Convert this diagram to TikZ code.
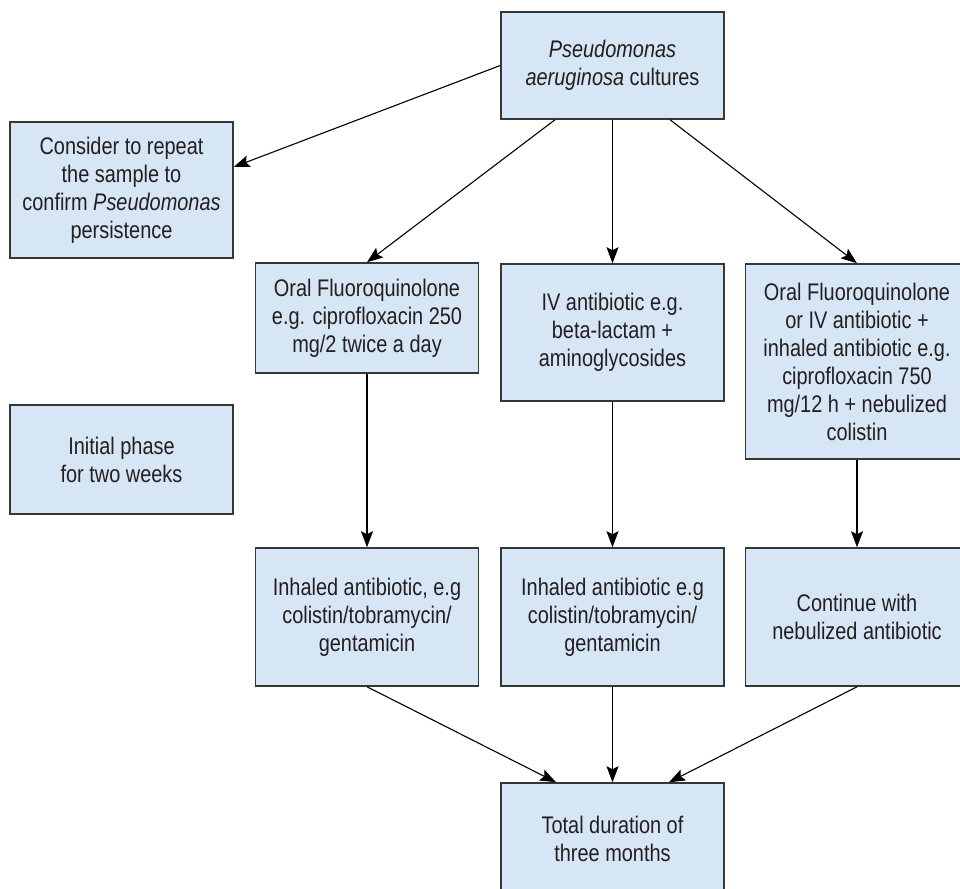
\documentclass[tikz,border=0pt]{standalone}
\usepackage{fontspec}
\setmainfont{Liberation Sans}[FakeStretch=0.83]
\usetikzlibrary{arrows.meta}
\definecolor{boxfill}{RGB}{214,230,244}
\definecolor{boxline}{RGB}{55,55,55}
\definecolor{txt}{RGB}{35,31,32}
\tikzset{
  fbox/.style={draw=boxline, line width=1.5pt, fill=boxfill, inner sep=0pt,
    align=center, text=txt, font=\fontsize{24}{28}\selectfont,
    minimum width=223pt},
  conn/.style={draw=black, line width=1.1pt,
    -{Stealth[length=16pt,width=12pt,inset=3pt]}},
}
\begin{document}
\begin{tikzpicture}[x=1pt,y=-1pt]
\useasboundingbox (0,0) rectangle (960,888);
\node[fbox, minimum height=107pt] (top) at (612.5,65.5) {\textit{Pseudomonas}\\\textit{aeruginosa} cultures};
\node[fbox, minimum height=136pt] (consider) at (121.5,190) {Consider to repeat\\the sample to\\confirm \textit{Pseudomonas}\\persistence};
\node[fbox, minimum height=109pt] (initial) at (121.5,459.5) {Initial phase\\for two weeks};
\node[fbox, minimum height=110pt] (b1) at (367,318) {Oral Fluoroquinolone\\e.g. ciprofloxacin 250\\mg/2 twice a day};
\node[fbox, minimum height=137pt] (b2) at (612.5,332.5) {IV antibiotic e.g.\\beta-lactam +\\aminoglycosides};
\node[fbox, minimum height=195pt] (b3) at (857,361.5) {Oral Fluoroquinolone\\or IV antibiotic +\\inhaled antibiotic e.g.\\ciprofloxacin 750\\mg/12 h + nebulized\\colistin};
\node[fbox, minimum height=138pt] (c1) at (367,617) {Inhaled antibiotic, e.g\\colistin/tobramycin/\\gentamicin};
\node[fbox, minimum height=138pt] (c2) at (612.5,617) {Inhaled antibiotic e.g\\colistin/tobramycin/\\gentamicin};
\node[fbox, minimum height=138pt] (c3) at (857,617) {Continue with\\nebulized antibiotic};
\node[fbox, minimum height=112pt] (bot) at (612.5,839) {Total duration of\\three months};
\draw[conn] (top.west) -- ([yshift=23pt]consider.east);
\draw[conn] ([xshift=-57.5pt]top.south) -- (b1.north);
\draw[conn] (top.south) -- (b2.north);
\draw[conn] ([xshift=57.5pt]top.south) -- (b3.north);
\draw[conn] (b1.south) -- (c1.north);
\draw[conn] (b2.south) -- (c2.north);
\draw[conn] (b3.south) -- (c3.north);
\draw[conn] (c1.south) -- ([xshift=-56.5pt]bot.north);
\draw[conn] (c2.south) -- (bot.north);
\draw[conn] (c3.south) -- ([xshift=56.5pt]bot.north);
\end{tikzpicture}
\end{document}
